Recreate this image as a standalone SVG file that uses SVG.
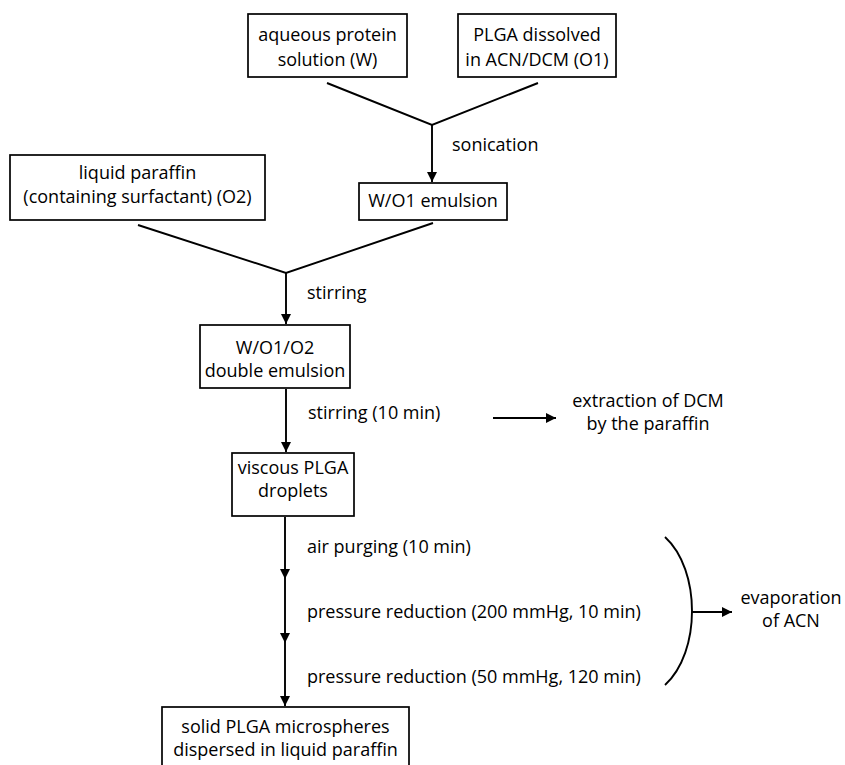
<svg xmlns="http://www.w3.org/2000/svg" width="845" height="765" viewBox="0 0 845 765">
<defs>
<style>
.box{fill:#fff;stroke:#000;stroke-width:1.7}
.t{font-family:"Open Sans","Liberation Sans",sans-serif;font-size:18px;fill:#000;text-anchor:middle}
.l{font-family:"Open Sans","Liberation Sans",sans-serif;font-size:18px;fill:#000}
.c{fill:none;stroke:#000;stroke-width:1.9}
</style>
<marker id="ah" markerWidth="10" markerHeight="14" refX="10" refY="7" orient="auto" markerUnits="userSpaceOnUse">
<path d="M0,2 L10,7 L0,12 Z" fill="#000"/>
</marker>
</defs>
<rect width="845" height="765" fill="#fff"/>
<g id="connectors">
<polyline class="c" points="327,83 432,125 538,83"/>
<line class="c" x1="432" y1="125" x2="432" y2="182" marker-end="url(#ah)"/>
<polyline class="c" points="138,225 286,273 433,223"/>
<line class="c" x1="286" y1="273" x2="286" y2="324" marker-end="url(#ah)"/>
<line class="c" x1="286" y1="389" x2="286" y2="452" marker-end="url(#ah)"/>
<line class="c" x1="493" y1="418" x2="556" y2="418" marker-end="url(#ah)"/>
<line class="c" x1="285" y1="517" x2="285" y2="579" marker-end="url(#ah)"/>
<line class="c" x1="285" y1="579" x2="285" y2="643" marker-end="url(#ah)"/>
<line class="c" x1="285" y1="643" x2="285" y2="706" marker-end="url(#ah)"/>
<path class="c" d="M665,537 C701,570 701,652 665,685"/>
<line class="c" x1="692" y1="612" x2="732" y2="612" marker-end="url(#ah)"/>
</g>
<g id="labels">
<text class="l" x="452" y="151">sonication</text>
<text class="l" x="307" y="299">stirring</text>
<text class="l" x="308" y="419">stirring (10 min)</text>
<text class="t" x="648" y="407">extraction of DCM</text>
<text class="t" x="648" y="430">by the paraffin</text>
<text class="l" x="307" y="553">air purging (10 min)</text>
<text class="l" x="307" y="618">pressure reduction (200 mmHg, 10 min)</text>
<text class="l" x="307" y="683">pressure reduction (50 mmHg, 120 min)</text>
<text class="t" x="791" y="604">evaporation</text>
<text class="t" x="791" y="627">of ACN</text>
</g>
<g id="n-water">
<rect class="box" x="248" y="14" width="159" height="63"/>
<text class="t" x="327.5" y="41">aqueous protein</text>
<text class="t" x="327.5" y="66">solution (W)</text>
</g>
<g id="n-plga">
<rect class="box" x="458" y="14" width="158" height="63"/>
<text class="t" x="537" y="41">PLGA dissolved</text>
<text class="t" x="537" y="66">in ACN/DCM (O1)</text>
</g>
<g id="n-wo1">
<rect class="box" x="359" y="183" width="148" height="37"/>
<text class="t" x="433" y="207">W/O1 emulsion</text>
</g>
<g id="n-paraffin">
<rect class="box" x="10" y="155" width="255" height="65"/>
<text class="t" x="137.5" y="179">liquid paraffin</text>
<text class="t" x="137.5" y="203">(containing surfactant) (O2)</text>
</g>
<g id="n-double">
<rect class="box" x="200" y="325" width="150" height="63"/>
<text class="t" x="275" y="354">W/O1/O2</text>
<text class="t" x="275" y="377">double emulsion</text>
</g>
<g id="n-viscous">
<rect class="box" x="232" y="453" width="122" height="63"/>
<text class="t" x="293" y="474">viscous PLGA</text>
<text class="t" x="293" y="497">droplets</text>
</g>
<g id="n-solid">
<rect class="box" x="162" y="707" width="247" height="70"/>
<text class="t" x="285.5" y="733">solid PLGA microspheres</text>
<text class="t" x="285.5" y="756">dispersed in liquid paraffin</text>
</g>
</svg>
